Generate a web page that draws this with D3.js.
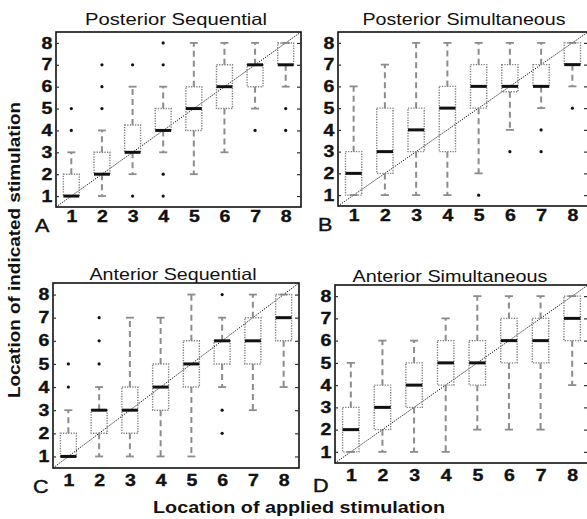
<!DOCTYPE html>
<html>
<head>
<meta charset="utf-8">
<script src="https://cdn.jsdelivr.net/npm/d3@7"></script>
<style>
  body { margin: 0; background: #fff; }
  text { font-family: "Liberation Sans", Arial, sans-serif; }
</style>
</head>
<body>
<div id="graph"></div>
<script>
var w = 587, h = 519

// categories: location of applied stimulation
var stimLocations = [1, 2, 3, 4, 5, 6, 7, 8]
var tickLabels = ['1', '2', '3', '4', '5', '6', '7', '8']

// A - Posterior Sequential
var postSeqMedian = [1, 2, 3, 4, 5, 6, 7, 7]
var postSeqQ1 = [1, 2, 3, 4, 4, 5, 6, 7]
var postSeqQ3 = [2, 3, 4.25, 5, 6, 7, 7, 8]
var postSeqLo = [1, 1, 2, 3, 2, 3, 5, 6]
var postSeqHi = [3, 4, 6, 6, 8, 8, 8, 8]
var postSeqOut = [[4, 5], [5, 6, 7], [1, 7], [1, 2, 7, 8], [], [], [4], [4, 5]]

// B - Posterior Simultaneous
var postSimMedian = [2, 3, 4, 5, 6, 6, 6, 7]
var postSimQ1 = [1, 2, 3, 3, 5, 5.75, 6, 7]
var postSimQ3 = [3, 5, 5, 6, 7, 7, 7, 8]
var postSimLo = [1, 1, 1, 1, 2, 4, 5, 6]
var postSimHi = [6, 7, 8, 8, 8, 8, 8, 8]
var postSimOut = [[], [], [], [], [1], [3], [3, 4], [5]]

// C - Anterior Sequential
var antSeqMedian = [1, 3, 3, 4, 5, 6, 6, 7]
var antSeqQ1 = [1, 2, 2, 3, 4, 5, 5, 6]
var antSeqQ3 = [2, 3, 4, 5, 6, 6, 7, 8]
var antSeqLo = [1, 1, 1, 1, 1, 4, 3, 4]
var antSeqHi = [3, 4, 7, 7, 8, 7, 8, 8]
var antSeqOut = [[4, 5], [5, 6, 7], [], [], [], [2, 3, 8], [], []]

// D - Anterior Simultaneous
var antSimMedian = [2, 3, 4, 5, 5, 6, 6, 7]
var antSimQ1 = [1, 2, 3, 4, 4, 5, 5, 6]
var antSimQ3 = [3, 4, 5, 6, 6, 7, 7, 8]
var antSimLo = [1, 1, 1, 1, 2, 2, 2, 4]
var antSimHi = [5, 6, 6, 7, 8, 8, 8, 8]
var antSimOut = [[], [], [], [], [], [], [], []]

function series(med, q1, q3, lo, hi, out) {
  return stimLocations.map((loc, i) => ({loc, med: med[i], q1: q1[i], q3: q3[i], lo: lo[i], hi: hi[i], out: out[i]}))
}

// panel layout (pixel boxes), titles and letters
var panels = [
  {title: 'Posterior Sequential', letter: 'A', box: [56, 32, 301, 207], titleX: 176, titleY: 25, titleW: 182, letterX: 35, letterY: 232, lblOff: 16,
    data: series(postSeqMedian, postSeqQ1, postSeqQ3, postSeqLo, postSeqHi, postSeqOut)},
  {title: 'Posterior Simultaneous', letter: 'B', box: [338, 32, 588, 206], titleX: 464, titleY: 25, titleW: 203, letterX: 318, letterY: 231, lblOff: 16,
    data: series(postSimMedian, postSimQ1, postSimQ3, postSimLo, postSimHi, postSimOut)},
  {title: 'Anterior Sequential', letter: 'C', box: [53, 283, 299, 468], titleX: 173, titleY: 280, titleW: 167, letterX: 33, letterY: 493, lblOff: 19,
    data: series(antSeqMedian, antSeqQ1, antSeqQ3, antSeqLo, antSeqHi, antSeqOut)},
  {title: 'Anterior Simultaneous', letter: 'D', box: [335, 285, 588, 463], titleX: 450, titleY: 282, titleW: 195, letterX: 313, letterY: 492, lblOff: 19,
    data: series(antSimMedian, antSimQ1, antSimQ3, antSimLo, antSimHi, antSimOut)}
]

var svg = d3.select('#graph')
  .append('svg')
  .attr('width', w)
  .attr('height', h)

svg.append('rect').attr('width', w).attr('height', h).attr('fill', '#fff')

function styleTicks(sel) {
  sel.attr('font-size', 16).attr('font-weight', 'bold').attr('fill', '#111')
    .attr('stroke', '#111').attr('stroke-width', 0.35)
    .attr('font-family', '"Liberation Sans", Arial, sans-serif')
    .attr('transform', 'scale(1.22,1)')
}

panels.forEach(p => {
  var [x0, y0, x1, y1] = p.box
  var x = d3.scaleLinear().domain([0.5, 8.5]).range([x0, x1])
  var y = d3.scaleLinear().domain([0.5, 8.5]).range([y1, y0])
  var step = x(2) - x(1)
  var bw = step * 0.52, cw = step * 0.26

  var g = svg.append('g')

  // y = x reference line
  g.append('line')
    .attr('x1', x(0.5)).attr('y1', y(0.5))
    .attr('x2', x(8.5)).attr('y2', y(8.5))
    .attr('stroke', '#111').attr('stroke-width', 1)
    .attr('stroke-dasharray', '1.2,1.2')

  var b = g.selectAll('.bx').data(p.data).enter().append('g').attr('class', 'bx')

  // whiskers
  b.append('line')
    .attr('x1', d => x(d.loc)).attr('x2', d => x(d.loc))
    .attr('y1', d => y(d.q3)).attr('y2', d => y(d.hi))
    .attr('stroke', '#8c8c8c').attr('stroke-width', 2).attr('stroke-dasharray', '6,4')
  b.append('line')
    .attr('x1', d => x(d.loc)).attr('x2', d => x(d.loc))
    .attr('y1', d => y(d.q1)).attr('y2', d => y(d.lo))
    .attr('stroke', '#8c8c8c').attr('stroke-width', 2).attr('stroke-dasharray', '6,4')
  // caps
  ;['hi', 'lo'].forEach(k => {
    b.append('line')
      .attr('x1', d => x(d.loc) - cw / 2).attr('x2', d => x(d.loc) + cw / 2)
      .attr('y1', d => y(d[k])).attr('y2', d => y(d[k]))
      .attr('stroke', '#8c8c8c').attr('stroke-width', 1.8)
  })

  // boxes (dotted outline)
  b.append('rect')
    .attr('x', d => x(d.loc) - bw / 2).attr('width', bw)
    .attr('y', d => y(d.q3)).attr('height', d => y(d.q1) - y(d.q3))
    .attr('fill', 'none').attr('stroke', '#808080').attr('stroke-width', 1.4)
    .attr('stroke-dasharray', '1.3,1.3')

  // medians
  b.append('line')
    .attr('x1', d => x(d.loc) - bw / 2).attr('x2', d => x(d.loc) + bw / 2)
    .attr('y1', d => y(d.med)).attr('y2', d => y(d.med))
    .attr('stroke', '#111').attr('stroke-width', 3)

  // outliers
  b.selectAll('circle').data(d => d.out.map(v => ({loc: d.loc, v})))
    .enter().append('circle')
    .attr('cx', d => x(d.loc)).attr('cy', d => y(d.v))
    .attr('r', 1.6).attr('fill', '#111')

  // frame
  g.append('rect')
    .attr('x', x0).attr('y', y0).attr('width', x1 - x0).attr('height', y1 - y0)
    .attr('fill', 'none').attr('stroke', '#111').attr('stroke-width', 1.6)

  // inner ticks on both sides
  g.append('g')
    .attr('transform', 'translate(' + x1 + ',0)')
    .call(d3.axisRight(y).tickValues(stimLocations).tickSize(-4).tickFormat(''))
    .call(a => a.select('.domain').remove())
    .selectAll('line').attr('stroke', '#333').attr('stroke-width', 1.2)
  g.append('g')
    .attr('transform', 'translate(' + x0 + ',0)')
    .call(d3.axisLeft(y).tickValues(stimLocations).tickSize(-3).tickFormat(''))
    .call(a => a.select('.domain').remove())
    .selectAll('line').attr('stroke', '#333').attr('stroke-width', 1.2)

  // y axis labels
  g.append('g')
    .attr('transform', 'translate(' + x0 + ',0)')
    .call(d3.axisLeft(y).tickValues(stimLocations).tickSize(0).tickPadding(3).tickFormat((d, i) => tickLabels[i]))
    .call(a => a.select('.domain').remove())
    .selectAll('text')
    .call(styleTicks)

  // x axis labels
  g.append('g')
    .attr('transform', 'translate(0,' + y1 + ')')
    .call(d3.axisBottom(x).tickValues(stimLocations).tickSize(0).tickPadding(p.lblOff - 12).tickFormat((d, i) => tickLabels[i]))
    .call(a => a.select('.domain').remove())
    .selectAll('text')
    .call(styleTicks)

  // title
  g.append('text')
    .attr('x', p.titleX - p.titleW / 2).attr('y', p.titleY)
    .attr('textLength', p.titleW).attr('lengthAdjust', 'spacingAndGlyphs')
    .attr('font-size', 16.5).attr('fill', '#111')
    .text(p.title)

  // panel letter
  g.append('text')
    .attr('transform', 'translate(' + p.letterX + ',' + p.letterY + ') scale(1.2,1)')
    .attr('font-size', 18).attr('fill', '#111')
    .attr('stroke', '#111').attr('stroke-width', 0.4)
    .text(p.letter)
})

// shared axis titles
svg.append('text')
  .attr('transform', 'translate(20,250) rotate(-90)')
  .attr('x', -148).attr('y', 0)
  .attr('textLength', 296).attr('lengthAdjust', 'spacingAndGlyphs')
  .attr('font-size', 17).attr('font-weight', 'bold').attr('fill', '#111')
  .text('Location of indicated stimulation')

svg.append('text')
  .attr('x', 299 - 146).attr('y', 513)
  .attr('textLength', 292).attr('lengthAdjust', 'spacingAndGlyphs')
  .attr('font-size', 17).attr('font-weight', 'bold').attr('fill', '#111')
  .text('Location of applied stimulation')
</script>
</body>
</html>
